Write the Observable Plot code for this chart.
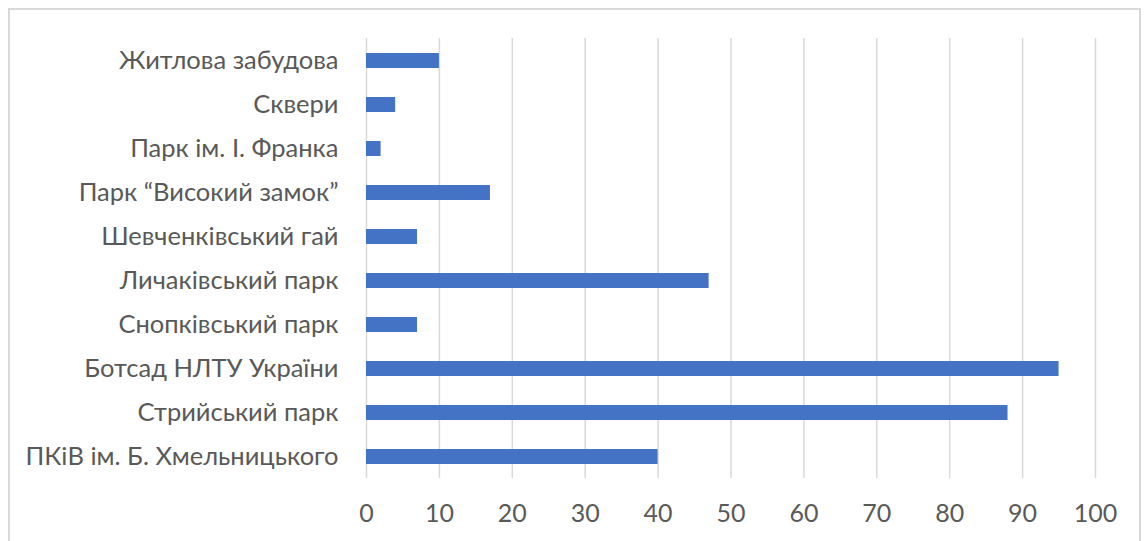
<!DOCTYPE html>
<html>
<head>
<meta charset="utf-8">
<script src="https://cdn.jsdelivr.net/npm/d3@7"></script>
<script src="https://cdn.jsdelivr.net/npm/@observablehq/plot@0.6"></script>
<style>
  html, body { margin: 0; padding: 0; background: #fff; }
  #frame {
    position: absolute; left: 8px; top: 8px; width: 1133px; height: 560px;
    border: 2px solid #d9d9d9; box-sizing: border-box; pointer-events: none;
  }
  #chart { position: absolute; left: 0; top: 0; }
</style>
</head>
<body>
<div id="chart"></div>
<div id="frame"></div>
<script>
// Locations (top to bottom as drawn)
const places = [
  "Житлова забудова",
  "Сквери",
  "Парк ім. І. Франка",
  "Парк “Високий замок”",
  "Шевченківський гай",
  "Личаківський парк",
  "Снопківський парк",
  "Ботсад НЛТУ України",
  "Стрийський парк",
  "ПКіВ ім. Б. Хмельницького"
];
const counts = [10, 4, 2, 17, 7, 47, 7, 95, 88, 40];
const xTicks = [0, 10, 20, 30, 40, 50, 60, 70, 80, 90, 100];

const rows = places.map((p, i) => ({place: p, value: counts[i]}));

const chart = Plot.plot({
  width: 1145,
  height: 541,
  marginLeft: 366,
  marginRight: 50,
  marginTop: 38,
  marginBottom: 63,
  style: {fontFamily: "Lato, 'Open Sans', sans-serif", fontSize: "25px", color: "#595959", background: "transparent"},
  x: {domain: [0, 100], ticks: xTicks, label: null, tickSize: 0},
  y: {domain: places, label: null, tickSize: 0, paddingInner: 0.66, paddingOuter: 0.33},
  marks: [
    Plot.ruleX(xTicks, {stroke: "#d9d9d9", strokeWidth: 1.5, y1: null, y2: null}),
    Plot.barX(rows, {x: "value", y: "place", fill: "#4472c4"}),
    Plot.axisX({ticks: xTicks, tickSize: 0, tickPadding: 26, fontSize: 25}),
    Plot.axisY({tickSize: 0, tickPadding: 28, fontSize: 25.5})
  ]
});
document.getElementById("chart").appendChild(chart);
</script>
</body>
</html>
